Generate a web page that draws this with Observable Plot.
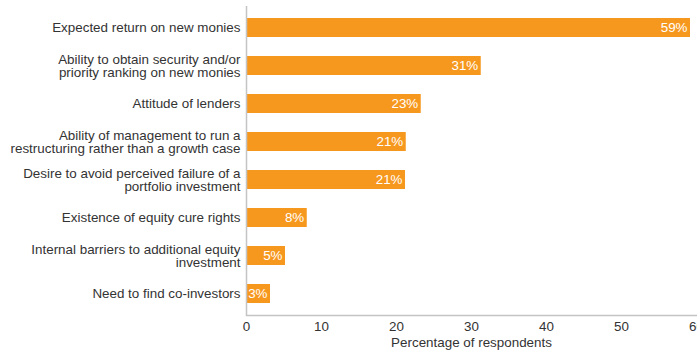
<!DOCTYPE html>
<html>
<head>
<meta charset="utf-8">
<script src="https://cdn.jsdelivr.net/npm/d3@7"></script>
<script src="https://cdn.jsdelivr.net/npm/@observablehq/plot@0.6"></script>
<style>
  html, body { margin: 0; padding: 0; background: #fff; overflow: hidden; }
  #chart svg { display: block; font-family: "Liberation Sans", Arial, sans-serif; }
</style>
</head>
<body>
<div id="chart"></div>
<script>
const categories = [
  "Expected return on new monies",
  "Ability to obtain security and/or\npriority ranking on new monies",
  "Attitude of lenders",
  "Ability of management to run a\nrestructuring rather than a growth case",
  "Desire to avoid perceived failure of a\nportfolio investment",
  "Existence of equity cure rights",
  "Internal barriers to additional equity\ninvestment",
  "Need to find co-investors"
];
const values = [59.2, 31.3, 23.3, 21.3, 21.2, 8.1, 5.2, 3.2];
const valueLabels = ["59%", "31%", "23%", "21%", "21%", "8%", "5%", "3%"];
const xTicks = [0, 10, 20, 30, 40, 50, 60];
const xTitle = "Percentage of respondents";

const data = categories.map((c, i) => ({cat: c, value: values[i], label: valueLabels[i]}));

const chart = Plot.plot({
  width: 697,
  height: 353,
  marginLeft: 246,
  marginRight: 1,
  marginTop: 6,
  marginBottom: 38,
  style: {fontSize: "13.4px", color: "#333", background: "#fff", overflow: "hidden"},
  x: {domain: [0, 60], ticks: xTicks},
  y: {domain: categories, paddingInner: 0.5, paddingOuter: 0.25},
  marks: [
    Plot.barX(data, {x: "value", y: "cat", fill: "#F7981E"}),
    Plot.ruleX([0], {stroke: "#c4c4c4", strokeWidth: 1.5}),
    Plot.frame({anchor: "bottom", stroke: "#c4c4c4", strokeWidth: 1.5}),
    Plot.text(data, {x: "value", y: "cat", text: "label", textAnchor: "end", dx: -3, fill: "#fff", fontSize: 13.4}),
    Plot.axisY({tickSize: 0, tickPadding: 6, label: null, fill: "#333", fontSize: 13.4, lineHeight: 1}),
    Plot.axisX({tickSize: 0, tickPadding: 6, label: null, fill: "#333", fontSize: 13.4, ticks: xTicks}),
    Plot.text([xTitle], {frameAnchor: "bottom", dy: 31, fill: "#333", fontSize: 13.4})
  ]
});
document.getElementById("chart").appendChild(chart);
</script>
</body>
</html>
